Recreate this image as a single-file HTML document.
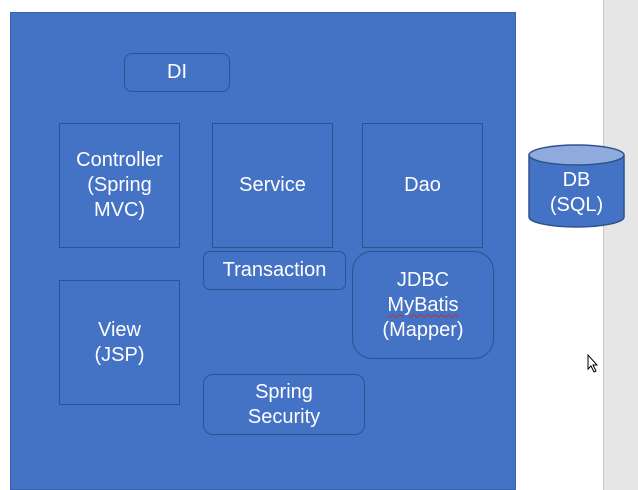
<!DOCTYPE html>
<html><head><meta charset="utf-8"><style>
html,body{margin:0;padding:0;width:638px;height:490px;overflow:hidden;background:#fff;font-family:"Liberation Sans",sans-serif;}
.b{position:absolute;box-sizing:border-box;border:1.5px solid #2f528f;color:#fff;font-size:20px;line-height:25px;display:flex;align-items:center;justify-content:center;text-align:center;}
</style></head><body>
<div style="position:absolute;left:603px;top:0;width:35px;height:490px;background:#e6e6e6;border-left:1px solid #c8c8c8;"></div>
<div style="position:absolute;left:10px;top:12px;width:506px;height:478px;background:#4472c4;border:1px solid #3a63ad;box-sizing:border-box;"></div>
<div class="b" style="left:124px;top:53px;width:106px;height:39px;border-radius:8px;"><div>DI</div></div>
<div class="b" style="left:59px;top:123px;width:121px;height:125px;"><div>Controller<br>(Spring<br>MVC)</div></div>
<div class="b" style="left:212px;top:123px;width:121px;height:125px;"><div>Service</div></div>
<div class="b" style="left:362px;top:123px;width:121px;height:125px;"><div>Dao</div></div>
<div class="b" style="left:203px;top:251px;width:143px;height:39px;border-radius:7px;"><div>Transaction</div></div>
<div class="b" style="left:352px;top:251px;width:142px;height:108px;border-radius:20px;"><div>JDBC<br><span style="text-decoration:underline wavy #c03030;text-decoration-thickness:1px;text-underline-offset:3px;">MyBatis</span><br>(Mapper)</div></div>
<div class="b" style="left:59px;top:280px;width:121px;height:125px;"><div>View<br>(JSP)</div></div>
<div class="b" style="left:203px;top:374px;width:162px;height:61px;border-radius:10px;"><div>Spring<br>Security</div></div>
<svg style="position:absolute;left:0;top:0" width="638" height="490">
<path d="M529,155 L529,217 A47.5,10 0 0 0 624,217 L624,155" fill="#4472c4" stroke="#2f528f" stroke-width="1.5"/>
<ellipse cx="576.5" cy="155" rx="47.5" ry="10" fill="#8faadc" stroke="#2f528f" stroke-width="1.5"/>
<text x="576.5" y="186" fill="#fff" font-size="20" text-anchor="middle" font-family="Liberation Sans, sans-serif">DB</text>
<text x="576.5" y="211" fill="#fff" font-size="20" text-anchor="middle" font-family="Liberation Sans, sans-serif">(SQL)</text>
<path d="M588,355 L588,369 L591,366 L594,372 L596,371 L593,365 L597,365 Z" fill="#fff" stroke="#000" stroke-width="1"/>
</svg>
</body></html>
